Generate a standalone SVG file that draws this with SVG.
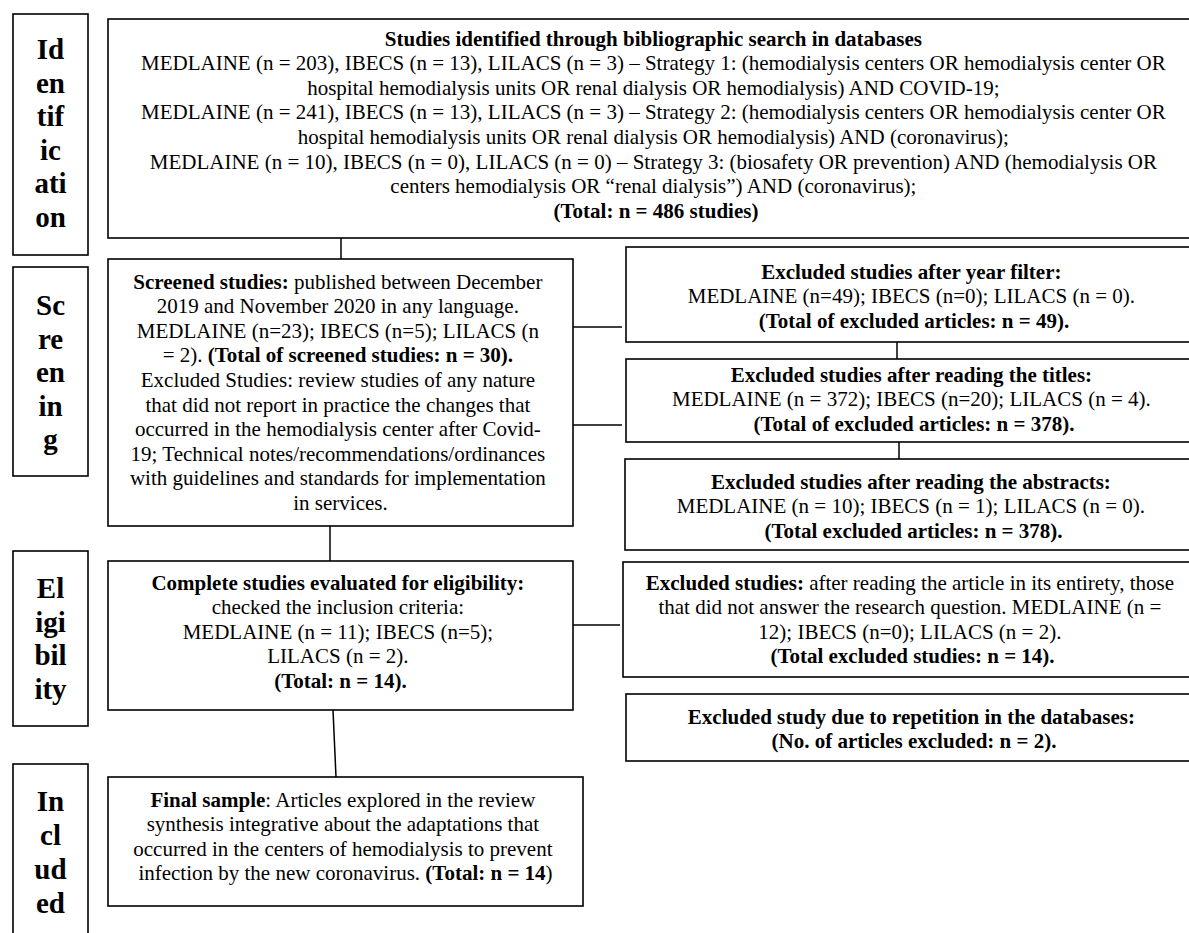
<svg xmlns="http://www.w3.org/2000/svg" width="1189" height="933" viewBox="0 0 1189 933">
<style>
.box{fill:#fff;stroke:#000;stroke-width:1.6}
.conn line{stroke:#000;stroke-width:1.5}
text{font-family:"Liberation Serif","Times New Roman",serif;fill:#000}
.t{font-size:21px;text-anchor:middle}
.b{font-weight:bold}
.lab{font-size:29px;font-weight:bold;text-anchor:middle}
</style>
<rect width="1189" height="933" fill="#fff"/>
<g id="connectors" class="conn">
<line x1="341" y1="238" x2="341" y2="259"/>
<line x1="573" y1="327" x2="622" y2="327"/>
<line x1="573" y1="425" x2="622" y2="425"/>
<line x1="897" y1="342" x2="897" y2="359"/>
<line x1="899" y1="442" x2="899" y2="459"/>
<line x1="330" y1="526" x2="330" y2="561"/>
<line x1="573" y1="625" x2="620" y2="625"/>
<line x1="333" y1="710" x2="336" y2="777"/>
</g>
<g id="label-identification">
<rect class="box" x="13" y="14" width="75" height="241"/>
<text class="lab"><tspan x="50.5" y="59">Id</tspan><tspan x="50.5" y="92.6">en</tspan><tspan x="50.5" y="126.2">tif</tspan><tspan x="50.5" y="159.8">ic</tspan><tspan x="50.5" y="193.4">ati</tspan><tspan x="50.5" y="227">on</tspan></text>
</g>
<g id="label-screening">
<rect class="box" x="13" y="267" width="75" height="209"/>
<text class="lab"><tspan x="50.5" y="315">Sc</tspan><tspan x="50.5" y="348.6">re</tspan><tspan x="50.5" y="382.2">en</tspan><tspan x="50.5" y="415.8">in</tspan><tspan x="50.5" y="449.4">g</tspan></text>
</g>
<g id="label-eligibility">
<rect class="box" x="13" y="551" width="75" height="175"/>
<text class="lab"><tspan x="50.5" y="598">El</tspan><tspan x="50.5" y="631.5">igi</tspan><tspan x="50.5" y="665">bil</tspan><tspan x="50.5" y="698.5">ity</tspan></text>
</g>
<g id="label-included">
<rect class="box" x="13" y="764" width="75" height="180"/>
<text class="lab"><tspan x="50.5" y="811">In</tspan><tspan x="50.5" y="845">cl</tspan><tspan x="50.5" y="879">ud</tspan><tspan x="50.5" y="912.5">ed</tspan></text>
</g>
<g id="identification">
<rect class="box" x="108" y="19" width="1096" height="219"/>
<text class="t">
<tspan x="656" y="45.5" class="b">Studies identified through bibliographic search in databases</tspan>
<tspan x="656" y="70.1">MEDLAINE (n = 203), IBECS (n = 13), LILACS (n = 3) – Strategy 1: (hemodialysis centers OR hemodialysis center OR</tspan>
<tspan x="656" y="94.7">hospital hemodialysis units OR renal dialysis OR hemodialysis) AND COVID-19;</tspan>
<tspan x="656" y="119.3">MEDLAINE (n = 241), IBECS (n = 13), LILACS (n = 3) – Strategy 2: (hemodialysis centers OR hemodialysis center OR</tspan>
<tspan x="656" y="143.9">hospital hemodialysis units OR renal dialysis OR hemodialysis) AND (coronavirus);</tspan>
<tspan x="656" y="168.5">MEDLAINE (n = 10), IBECS (n = 0), LILACS (n = 0) – Strategy 3: (biosafety OR prevention) AND (hemodialysis OR</tspan>
<tspan x="656" y="193.1">centers hemodialysis OR “renal dialysis”) AND (coronavirus);</tspan>
<tspan x="656" y="217.7" class="b">(Total: n = 486 studies)</tspan>
</text>
</g>
<g id="screening">
<rect class="box" x="108" y="259" width="465" height="267"/>
<text class="t">
<tspan x="340.5" y="288.5"><tspan class="b">Screened studies:</tspan> published between December</tspan>
<tspan x="340.5" y="313.1">2019 and November 2020 in any language.</tspan>
<tspan x="340.5" y="337.7">MEDLAINE (n=23); IBECS (n=5); LILACS (n</tspan>
<tspan x="340.5" y="362.3">= 2). <tspan class="b">(Total of screened studies: n = 30).</tspan></tspan>
<tspan x="340.5" y="386.9">Excluded Studies: review studies of any nature</tspan>
<tspan x="340.5" y="411.5">that did not report in practice the changes that</tspan>
<tspan x="340.5" y="436.1">occurred in the hemodialysis center after Covid-</tspan>
<tspan x="340.5" y="460.7">19; Technical notes/recommendations/ordinances</tspan>
<tspan x="340.5" y="485.3">with guidelines and standards for implementation</tspan>
<tspan x="340.5" y="509.9">in services.</tspan>
</text>
</g>
<g id="excluded-year">
<rect class="box" x="626" y="247" width="576" height="95"/>
<text class="t">
<tspan x="914" y="278.5" class="b">Excluded studies after year filter:</tspan>
<tspan x="914" y="303.1">MEDLAINE (n=49); IBECS (n=0); LILACS (n = 0).</tspan>
<tspan x="914" y="327.7" class="b">(Total of excluded articles: n = 49).</tspan>
</text>
</g>
<g id="excluded-titles">
<rect class="box" x="626" y="359" width="576" height="83"/>
<text class="t">
<tspan x="914" y="381.5" class="b">Excluded studies after reading the titles:</tspan>
<tspan x="914" y="406.1">MEDLAINE (n = 372); IBECS (n=20); LILACS (n = 4).</tspan>
<tspan x="914" y="430.7" class="b">(Total of excluded articles: n = 378).</tspan>
</text>
</g>
<g id="excluded-abstracts">
<rect class="box" x="625" y="459" width="577" height="91"/>
<text class="t">
<tspan x="913.5" y="488.5" class="b">Excluded studies after reading the abstracts:</tspan>
<tspan x="913.5" y="513.1">MEDLAINE (n = 10); IBECS (n = 1); LILACS (n = 0).</tspan>
<tspan x="913.5" y="537.7" class="b">(Total excluded articles: n = 378).</tspan>
</text>
</g>
<g id="eligibility">
<rect class="box" x="108" y="561" width="465" height="149"/>
<text class="t">
<tspan x="340.5" y="589.5" class="b">Complete studies evaluated for eligibility:</tspan>
<tspan x="340.5" y="614.1">checked the inclusion criteria:</tspan>
<tspan x="340.5" y="638.7">MEDLAINE (n = 11); IBECS (n=5);</tspan>
<tspan x="340.5" y="663.3">LILACS (n = 2).</tspan>
<tspan x="340.5" y="687.9" class="b">(Total: n = 14).</tspan>
</text>
</g>
<g id="excluded-full">
<rect class="box" x="623" y="562" width="579" height="115"/>
<text class="t">
<tspan x="912.5" y="589.5"><tspan class="b">Excluded studies:</tspan> after reading the article in its entirety, those</tspan>
<tspan x="912.5" y="614.1">that did not answer the research question. MEDLAINE (n =</tspan>
<tspan x="912.5" y="638.7">12); IBECS (n=0); LILACS (n = 2).</tspan>
<tspan x="912.5" y="663.3" class="b">(Total excluded studies: n = 14).</tspan>
</text>
</g>
<g id="excluded-repetition">
<rect class="box" x="626" y="694" width="576" height="67"/>
<text class="t b">
<tspan x="914" y="723.5">Excluded study due to repetition in the databases:</tspan>
<tspan x="914" y="748.1">(No. of articles excluded: n = 2).</tspan>
</text>
</g>
<g id="final-sample">
<rect class="box" x="108" y="777" width="475" height="129"/>
<text class="t">
<tspan x="345.5" y="806.5"><tspan class="b">Final sample</tspan>: Articles explored in the review</tspan>
<tspan x="345.5" y="831.1">synthesis integrative about the adaptations that</tspan>
<tspan x="345.5" y="855.7">occurred in the centers of hemodialysis to prevent</tspan>
<tspan x="345.5" y="880.3">infection by the new coronavirus. <tspan class="b">(Total: n = 14</tspan>)</tspan>
</text>
</g>
</svg>
